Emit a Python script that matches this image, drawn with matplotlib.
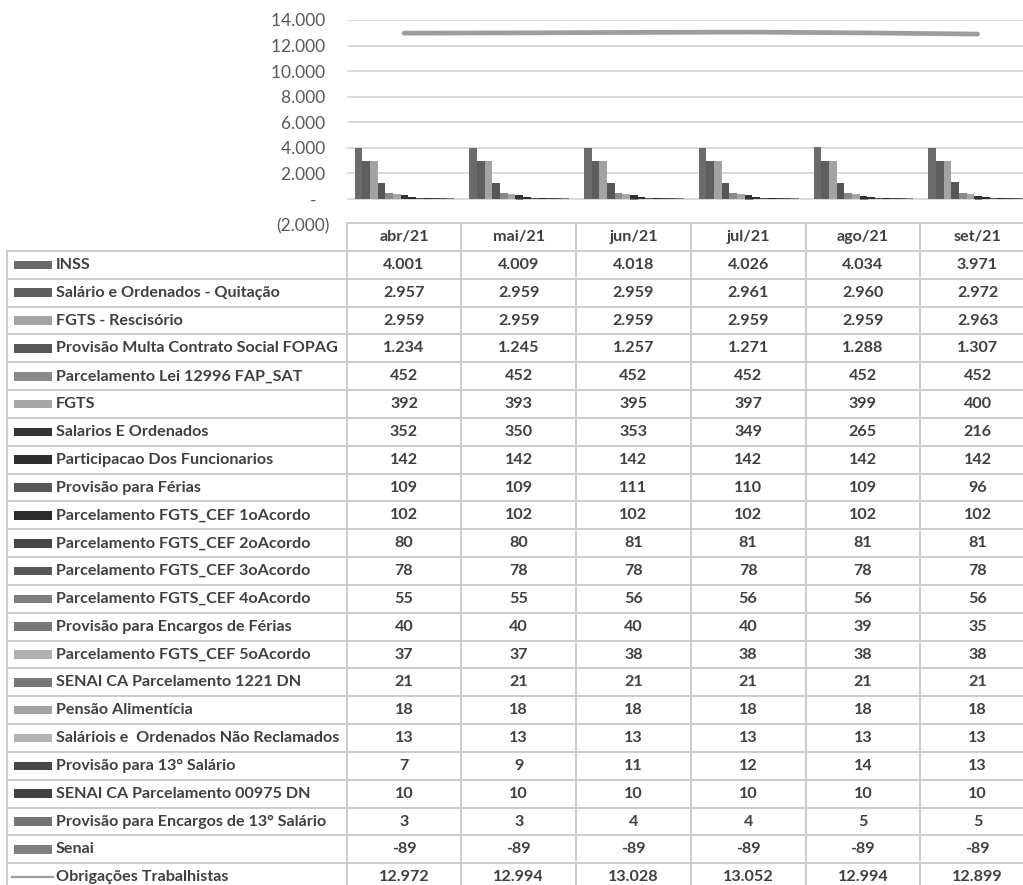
import matplotlib
matplotlib.use("Agg")
import matplotlib.pyplot as plt
from matplotlib.patches import Rectangle
from matplotlib.lines import Line2D

# ---------------- data ----------------
months = ["abr/21", "mai/21", "jun/21", "jul/21", "ago/21", "set/21"]

inss = [4001, 4009, 4018, 4026, 4034, 3971]
sal_quitacao = [2957, 2959, 2959, 2961, 2960, 2972]
fgts_rescisorio = [2959, 2959, 2959, 2959, 2959, 2963]
prov_multa = [1234, 1245, 1257, 1271, 1288, 1307]
parc_lei = [452, 452, 452, 452, 452, 452]
fgts = [392, 393, 395, 397, 399, 400]
salarios_ordenados = [352, 350, 353, 349, 265, 216]
participacao = [142, 142, 142, 142, 142, 142]
prov_ferias = [109, 109, 111, 110, 109, 96]
parc_1o = [102, 102, 102, 102, 102, 102]
parc_2o = [80, 80, 81, 81, 81, 81]
parc_3o = [78, 78, 78, 78, 78, 78]
parc_4o = [55, 55, 56, 56, 56, 56]
prov_enc_ferias = [40, 40, 40, 40, 39, 35]
parc_5o = [37, 37, 38, 38, 38, 38]
senai_1221 = [21, 21, 21, 21, 21, 21]
pensao = [18, 18, 18, 18, 18, 18]
sal_nao_reclamados = [13, 13, 13, 13, 13, 13]
prov_13 = [7, 9, 11, 12, 14, 13]
senai_00975 = [10, 10, 10, 10, 10, 10]
prov_enc_13 = [3, 3, 4, 4, 5, 5]
senai = [-89, -89, -89, -89, -89, -89]
obrigacoes = [12972, 12994, 13028, 13052, 12994, 12899]

bar_names = [
    "INSS", "Salário e Ordenados - Quitação", "FGTS - Rescisório",
    "Provisão Multa Contrato Social FOPAG", "Parcelamento Lei 12996 FAP_SAT",
    "FGTS", "Salarios E Ordenados", "Participacao Dos Funcionarios",
    "Provisão para Férias", "Parcelamento FGTS_CEF 1oAcordo",
    "Parcelamento FGTS_CEF 2oAcordo", "Parcelamento FGTS_CEF 3oAcordo",
    "Parcelamento FGTS_CEF 4oAcordo", "Provisão para Encargos de Férias",
    "Parcelamento FGTS_CEF 5oAcordo", "SENAI CA Parcelamento 1221 DN",
    "Pensão Alimentícia", "Saláriois e  Ordenados Não Reclamados",
    "Provisão para 13° Salário", "SENAI CA Parcelamento 00975 DN",
    "Provisão para Encargos de 13° Salário", "Senai",
]
bar_values = [
    inss, sal_quitacao, fgts_rescisorio, prov_multa, parc_lei, fgts,
    salarios_ordenados, participacao, prov_ferias, parc_1o, parc_2o, parc_3o,
    parc_4o, prov_enc_ferias, parc_5o, senai_1221, pensao, sal_nao_reclamados,
    prov_13, senai_00975, prov_enc_13, senai,
]
line_name = "Obrigações Trabalhistas"

bar_colors = [
    "#6b6b6b", "#5e5e5e", "#a3a3a3", "#565656", "#8a8a8a", "#a6a6a6",
    "#333333", "#2e2e2e", "#575757", "#2b2b2b", "#474747", "#585858",
    "#7e7e7e", "#777777", "#b0b0b0", "#777777", "#a2a2a2", "#b3b3b3",
    "#474747", "#404040", "#747474", "#7f7f7f",
]
line_color = "#9d9d9d"
grid_color = "#d9d9d9"
text_color = "#404040"
axis_text_color = "#595959"

FONT = "Lato"
plt.rcParams["font.family"] = [FONT, "DejaVu Sans"]

W, H = 1023, 885
fig = plt.figure(figsize=(W / 100, H / 100), dpi=100)
fig.patch.set_facecolor("white")


def fx(x):
    return x / W


def fy(y):
    return 1 - y / H


# ---------------- chart area ----------------
col_left = 346.7
col_w = 114.7
y_top, y_bot = 20.0, 224.6
ax = fig.add_axes([fx(col_left), fy(y_bot), 6 * col_w / W, (y_bot - y_top) / H])
ax.set_xlim(-0.5, 5.5)
ax.set_ylim(-2000, 14000)
for s in ax.spines.values():
    s.set_visible(False)
ax.set_xticks([])
yt = list(range(-2000, 14001, 2000))
ax.set_yticks(yt)


def yfmt(v):
    if v == 0:
        return "-   "
    if v < 0:
        return "(" + f"{-v:,}".replace(",", ".") + ")"
    return f"{v:,}".replace(",", ".") + " "


ax.set_yticklabels([yfmt(v) for v in yt], fontsize=12.5, color=axis_text_color)
ax.tick_params(axis="y", length=0, pad=12)
for v in yt[1:]:
    ax.axhline(v, color=grid_color, lw=1.4, zorder=0)

bw = 7.67 / col_w
off = 8.0 / col_w
n_cat = len(months)
for j, (vals, c) in enumerate(zip(bar_values, bar_colors)):
    xs = [i - 0.5 + off + j * bw for i in range(n_cat)]
    ax.bar(xs, vals, width=bw, align="edge", color=c, linewidth=0, zorder=2)

ax.plot(range(n_cat), obrigacoes, color=line_color, lw=3.4,
        solid_capstyle="round", zorder=3)

# ---------------- data table ----------------
tcolor = "#cccccc"
tlw = 1.4
hdr_top = 223.3
hdr_bot = 251.0
row_h = 27.83
n_rows = len(bar_names) + 1
left_x = 7.3
right_x = 1035.0

fig.add_artist(Line2D([fx(col_left), fx(right_x)], [fy(hdr_top)] * 2,
                      color=tcolor, lw=tlw))
for k in range(n_rows + 1):
    yy = hdr_bot + k * row_h
    fig.add_artist(Line2D([fx(left_x), fx(right_x)], [fy(yy)] * 2,
                          color=tcolor, lw=tlw))
fig.add_artist(Line2D([fx(left_x)] * 2, [fy(hdr_bot), fy(H + 5)],
                      color=tcolor, lw=tlw))
for i in range(n_cat + 1):
    xx = col_left + i * col_w
    fig.add_artist(Line2D([fx(xx)] * 2, [fy(hdr_top), fy(H + 5)],
                          color=tcolor, lw=tlw))

fs = 11.6
for i, m in enumerate(months):
    fig.text(fx(col_left + (i + 0.5) * col_w), fy((hdr_top + hdr_bot) / 2), m,
             ha="center", va="center", fontsize=fs, fontweight="bold",
             color=text_color)


def nfmt(v):
    s = f"{abs(v):,}".replace(",", ".")
    return "-" + s if v < 0 else s


all_names = bar_names + [line_name]
all_vals = bar_values + [obrigacoes]
for r, (name, vals) in enumerate(zip(all_names, all_vals)):
    yc = hdr_bot + (r + 0.5) * row_h
    if r < len(bar_names):
        fig.add_artist(Rectangle((fx(13.5), fy(yc + 4.3)), (51.7 - 13.5) / W,
                                 8.6 / H, color=bar_colors[r], lw=0))
    else:
        fig.add_artist(Line2D([fx(12), fx(53)], [fy(yc)] * 2,
                              color=line_color, lw=1.6))
    fig.text(fx(55.5), fy(yc), name, ha="left", va="center", fontsize=fs,
             fontweight="bold", color=text_color)
    for i, v in enumerate(vals):
        fig.text(fx(col_left + (i + 0.5) * col_w), fy(yc), nfmt(v),
                 ha="center", va="center", fontsize=fs, fontweight="bold",
                 color=text_color)

fig.savefig("out.png", dpi=100, facecolor="white")
